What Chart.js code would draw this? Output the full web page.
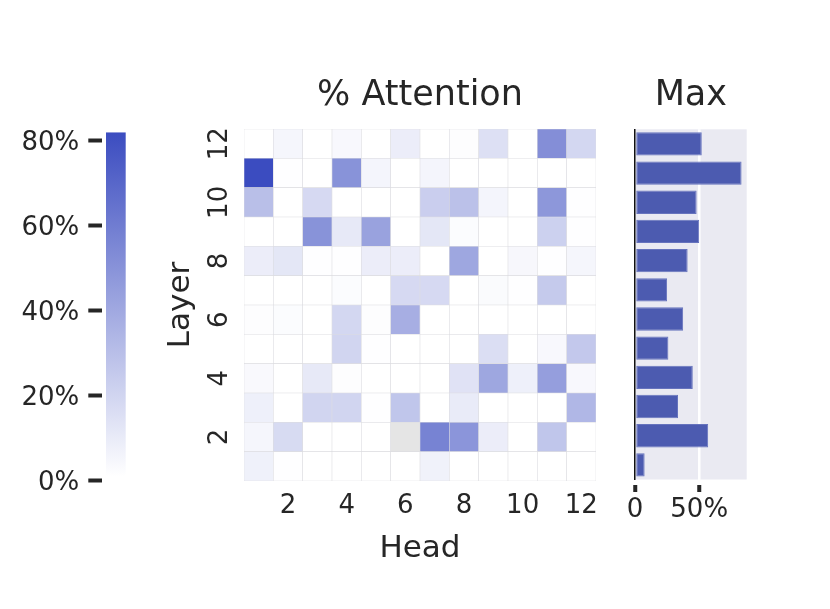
<!DOCTYPE html>
<html lang="en">
<head>
<meta charset="UTF-8">
<title>% Attention per layer and head</title>
<script src="https://cdn.jsdelivr.net/npm/chart.js"></script>
<style>
  body { margin: 0; background: #fff; }
  #wrap { position: relative; width: 830px; height: 609px; }
  #wrap canvas { position: absolute; top: 0; }
</style>
</head>
<body>
<div id="wrap">
  <canvas id="cbar" width="200" height="609" style="left:0"></canvas>
  <canvas id="heat" width="560" height="609" style="left:140px"></canvas>
  <canvas id="maxbar" width="182" height="609" style="left:600px"></canvas>
</div>
<script>
// heads on the x axis, layers on the y axis
const heads = [1, 2, 3, 4, 5, 6, 7, 8, 9, 10, 11, 12];
const layers = [1, 2, 3, 4, 5, 6, 7, 8, 9, 10, 11, 12];
const headTicks = [2, 4, 6, 8, 10, 12];
const layerTicks = [2, 4, 6, 8, 10, 12];
const colorbarTicks = [0, 20, 40, 60, 80];
const maxTicks = [0, 50];

// % attention per head, one array per layer (null = no value, grey cell)
const layer1  = [7.5, 1.5, 1, 1, 0.5, 0.5, 7, 0.5, 0.5, 0.5, 0.5, 0.5];
const layer2  = [5, 17.5, 0, 0, 0, null, 57, 49, 9, 0, 27, 0];
const layer3  = [8, 0, 20, 20, 1.5, 27, 0, 10, 0, 0, 0, 33.5];
const layer4  = [3.5, 0, 11, 2, 0, 0, 0, 14, 41, 8, 45, 4];
const layer5  = [0, 0, 0, 20, 1.5, 0, 0, 1, 16, 1, 4, 26];
const layer6  = [2, 2.5, 0, 19, 2, 37.5, 0, 0, 0, 0, 0, 0];
const layer7  = [0, 0, 0, 2.5, 0, 18, 18, 0, 3, 1.5, 25, 0];
const layer8  = [9, 12, 1.5, 1.5, 9, 9, 0, 41, 0, 4.5, 1.5, 5];
const layer9  = [0, 0, 50, 11, 43, 0, 12, 2.5, 0, 0, 22, 1.5];
const layer10 = [30, 0, 18, 0, 1, 1, 23, 29, 5.5, 0, 48, 1.5];
const layer11 = [83, 1.5, 0, 50, 5.5, 0, 5.5, 0, 0, 0, 0, 0];
const layer12 = [0, 5, 0, 4, 0, 9, 0, 2, 15, 0, 52, 19];
const attention = [layer1, layer2, layer3, layer4, layer5, layer6,
                   layer7, layer8, layer9, layer10, layer11, layer12];

// max % attention per layer (right panel)
const maxAttention = [7.5, 57, 33.5, 45, 26, 37.5, 25, 41, 50, 48, 83, 52];

// colour scale
const vMin = 1, vMax = 82;
const low = [255, 255, 255], high = [59, 76, 192];
const textColor = '#262626';

Chart.defaults.font.family = "'DejaVu Sans', sans-serif";
Chart.defaults.color = textColor;
Chart.defaults.animation = false;
Chart.defaults.plugins.legend.display = false;
Chart.defaults.plugins.tooltip.enabled = false;

function heatColor(v) {
    if (v === null) return '#e5e5e5';
    let t = (v - vMin) / (vMax - vMin);
    t = Math.max(0, Math.min(1, t));
    const c = low.map((a, i) => Math.round(a + (high[i] - a) * t));
    return `rgb(${c[0]}, ${c[1]}, ${c[2]})`;
}

const tickFont = { size: 26 };
const labelFont = { size: 31 };
const titleFont = { size: 35 };

// ---- colour bar ----
new Chart(document.getElementById('cbar'), {
    type: 'bar',
    data: {
        labels: [''],
        datasets: [{
            data: [[vMin, vMax]],
            barPercentage: 0.696,
            categoryPercentage: 1,
            borderSkipped: false,
            backgroundColor: function(context) {
                const chart = context.chart;
                if (!chart.chartArea) return heatColor(vMax);
                const y = chart.scales.y;
                const g = chart.ctx.createLinearGradient(0, y.getPixelForValue(vMin), 0, y.getPixelForValue(vMax));
                g.addColorStop(0, heatColor(vMin));
                g.addColorStop(1, heatColor(vMax));
                return g;
            }
        }]
    },
    options: {
        responsive: false,
        layout: { padding: { top: 132.2, bottom: 128.3, left: 0, right: 70 } },
        scales: {
            x: { display: false },
            y: {
                min: 0,
                max: vMax,
                afterBuildTicks: s => { s.ticks = colorbarTicks.map(v => ({ value: v })); },
                afterFit: s => { s.width = 101.7; },
                ticks: { font: tickFont, padding: 9, labelOffset: 2.5, callback: v => v + '%' },
                grid: { drawOnChartArea: false, tickLength: 13.4, tickWidth: 4, tickColor: textColor },
                border: { display: false }
            }
        }
    }
});

// ---- heatmap ----
new Chart(document.getElementById('heat'), {
    type: 'bar',
    data: {
        labels: heads.map(String),
        datasets: layers.map((l, i) => ({
            data: heads.map(() => [l - 0.5, l + 0.5]),
            backgroundColor: attention[i].map(heatColor),
            borderColor: '#dddde1',
            borderWidth: 0.6,
            borderSkipped: false,
            grouped: false,
            barPercentage: 1,
            categoryPercentage: 1
        }))
    },
    options: {
        responsive: false,
        layout: { padding: { top: 0, bottom: 0, left: 0, right: 104 } },
        scales: {
            x: {
                position: 'bottom',
                afterFit: s => { s.height = 128; },
                ticks: {
                    font: tickFont, padding: 9.9, autoSkip: false, maxRotation: 0,
                    callback: (v, i) => headTicks.includes(heads[i]) ? String(heads[i]) : ''
                },
                grid: { display: false, drawTicks: false },
                border: { display: false },
                title: { display: true, text: 'Head', font: labelFont, padding: { top: 0, bottom: 41.9 } }
            },
            xTop: {
                type: 'linear',
                position: 'top',
                min: 0, max: 1,
                afterFit: s => { s.height = 129; },
                ticks: { display: false },
                grid: { display: false, drawTicks: false },
                border: { display: false },
                title: { display: true, text: '% Attention', font: titleFont, padding: { top: 75.2, bottom: 0 } }
            },
            y: {
                type: 'linear',
                min: 0.5,
                max: 12.5,
                afterBuildTicks: s => { s.ticks = layerTicks.map(v => ({ value: v })); },
                afterFit: s => { s.width = 104; },
                ticks: { font: tickFont, padding: 7.5, minRotation: 90, maxRotation: 90, crossAlign: 'center', autoSkip: false },
                grid: { display: false, drawTicks: false },
                border: { display: false },
                title: { display: true, text: 'Layer', font: labelFont, padding: { top: 22.5, bottom: 0 } }
            }
        }
    }
});

// ---- max per layer ----
const panelBackground = {
    id: 'panelBackground',
    beforeDraw(chart) {
        const a = chart.chartArea;
        chart.ctx.save();
        chart.ctx.fillStyle = '#eaeaf2';
        chart.ctx.fillRect(a.left, a.top, a.right - a.left, a.bottom - a.top);
        chart.ctx.restore();
    }
};

new Chart(document.getElementById('maxbar'), {
    type: 'bar',
    data: {
        labels: layers.map(String),
        datasets: [{
            data: maxAttention,
            backgroundColor: '#4c5bb0',
            borderColor: '#6673bd',
            borderWidth: 1,
            borderSkipped: false,
            barPercentage: 0.8,
            categoryPercentage: 1
        }]
    },
    plugins: [panelBackground],
    options: {
        responsive: false,
        indexAxis: 'y',
        layout: { padding: { top: 0, bottom: 0, left: 0, right: 35.3 } },
        scales: {
            x: {
                type: 'linear',
                position: 'bottom',
                min: 0,
                max: 87,
                afterBuildTicks: s => { s.ticks = maxTicks.map(v => ({ value: v })); },
                afterFit: s => { s.height = 129.5; },
                ticks: { font: tickFont, padding: 2.5, callback: v => v === 0 ? '0' : v + '%' },
                grid: {
                    color: c => (c.tick && c.tick.value === 50) ? '#ffffff' : 'rgba(0,0,0,0)',
                    lineWidth: 2.5,
                    tickColor: textColor,
                    tickWidth: 4,
                    tickLength: 12.5,
                    tickBorderDash: [0, 5, 7.5, 50]
                },
                border: { display: false }
            },
            xTop: {
                type: 'linear',
                position: 'top',
                min: 0, max: 1,
                afterFit: s => { s.height = 129.3; },
                ticks: { display: false },
                grid: { display: false, drawTicks: false },
                border: { display: false },
                title: { display: true, text: 'Max', font: titleFont, padding: { top: 75.2, bottom: 0 } }
            },
            y: {
                reverse: true,
                afterFit: s => { s.width = 35; },
                ticks: { display: false },
                grid: { display: false, drawTicks: false },
                border: { display: true, color: '#111111', width: 1.5 }
            }
        }
    }
});
</script>
</body>
</html>
